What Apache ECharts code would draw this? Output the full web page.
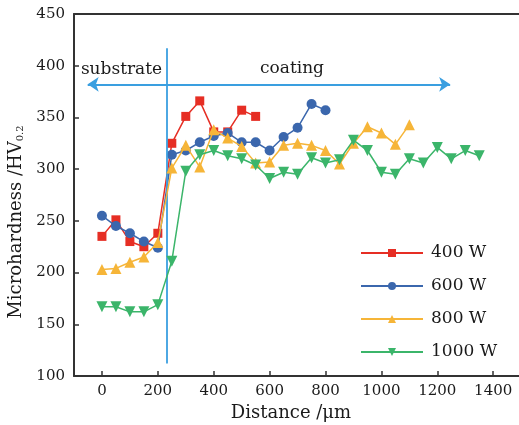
<!DOCTYPE html>
<html>
<head>
<meta charset="utf-8">
<script src="https://cdn.jsdelivr.net/npm/echarts@6/dist/echarts.min.js"></script>
<style>html,body{margin:0;padding:0;background:#fff;overflow:hidden}#c{width:519px;height:425px}</style>
</head>
<body>
<div id="c"></div>
<script>
// Distance (µm) of each indentation
var distance = [0, 50, 100, 150, 200, 250, 300, 350, 400, 450, 500, 550, 600, 650,
  700, 750, 800, 850, 900, 950, 1000, 1050, 1100, 1150, 1200, 1250, 1300, 1350];
// Microhardness HV0.2 per laser power
var hv400 = [235, 251, 230, 225, 238, 325, 351, 366, 336, 336, 357, 351];
var hv600 = [255, 245, 238, 230, 224, 314, 318, 326, 332, 335, 326, 326, 318, 331, 340, 363, 357];
var hv800 = [203, 204, 210, 215, 229, 301, 323, 302, 338, 330, 322, 306, 307, 323, 325, 323, 318, 305, 325, 341, 335, 324, 343];
var hv1000 = [167, 167, 162, 162, 169, 211, 298, 314, 318, 313, 310, 304, 291, 297, 295, 311, 306, 309, 328, 318, 297, 295, 310, 306, 321, 310, 318, 313];
var seriesNames = ['400 W', '600 W', '800 W', '1000 W'];
var xTicks = [0, 200, 400, 600, 800, 1000, 1200, 1400];
// annotations (data units)
var boundaryX = 233, boundaryY = [112, 417];
var arrowY = 382, arrowX = [-51, 1246];
var labelSubstrate = [70, 396], labelCoating = [680, 397];

var FONT = 'DejaVu Serif';
function pairs(vals) { return vals.map(function (v, i) { return [distance[i], v]; }); }

var chart = echarts.init(document.getElementById('c'), null, { renderer: 'canvas' });
var colors = ['#e62e24', '#3b67ad', '#f6b538', '#3bb56a'];
var symbols = ['rect', 'circle', 'triangle', 'triangle'];
var sizes = [9, 10, 11, 11];
var rots = [0, 0, 0, 180];
var vals = [hv400, hv600, hv800, hv1000];

var series = vals.map(function (v, i) {
  return {
    name: seriesNames[i], type: 'line', data: pairs(v),
    symbol: symbols[i], symbolSize: sizes[i], symbolRotate: rots[i], showAllSymbol: true,
    lineStyle: { color: colors[i], width: 1.5 },
    itemStyle: { color: colors[i] },
    z: 3 + i
  };
});
series[0].markLine = {
  silent: true, animation: false, label: { show: false },
  lineStyle: { color: '#3a9fe0', width: 1.8, type: 'solid' },
  symbolSize: [11, 11],
  data: [
    [{ coord: [boundaryX, boundaryY[0]], symbol: 'none' }, { coord: [boundaryX, boundaryY[1]], symbol: 'none' }],
    [{ coord: [arrowX[0], arrowY], symbol: 'arrow' }, { coord: [arrowX[1], arrowY], symbol: 'arrow' }]
  ]
};
series[0].markPoint = {
  silent: true, animation: false, symbol: 'rect', symbolSize: 1,
  itemStyle: { color: 'rgba(0,0,0,0)' },
  label: { show: true, position: 'inside', color: '#1a1a1a', fontFamily: FONT, fontSize: 17 },
  data: [
    { coord: labelSubstrate, label: { formatter: 'substrate' } },
    { coord: labelCoating, label: { formatter: 'coating' } }
  ]
};

var axisLineStyle = { color: '#333', width: 2 };
chart.setOption({
  animation: false,
  backgroundColor: '#fff',
  grid: { left: 74, top: 14, width: 460, height: 362, show: false, outerBoundsMode: 'none', containLabel: false },
  legend: {
    orient: 'vertical', left: 355, top: 238,
    itemWidth: 62, itemHeight: 10, itemGap: 13,
    data: seriesNames,
    textStyle: { fontFamily: FONT, fontSize: 17, color: '#1a1a1a', lineHeight: 20, padding: [0, 0, 0, 3] }
  },
  xAxis: [{
    type: 'value', min: -100, max: 1546, position: 'bottom',
    name: 'Distance /\u03bcm', nameLocation: 'middle', nameGap: 28,
    nameTextStyle: { fontFamily: FONT, fontSize: 18, color: '#1a1a1a', padding: [0, 26, 0, 0] },
    axisLine: { show: true, onZero: false, lineStyle: axisLineStyle },
    axisTick: { show: true, inside: true, length: 5, customValues: xTicks, lineStyle: { color: '#333', width: 1.5 } },
    axisLabel: { customValues: xTicks, margin: 8, fontFamily: FONT, fontSize: 15, color: '#1a1a1a',
      formatter: function (v) { return String(v); } },
    splitLine: { show: false }
  }, {
    type: 'value', min: -100, max: 1546, position: 'top',
    axisLine: { show: true, onZero: false, lineStyle: axisLineStyle },
    axisTick: { show: false }, axisLabel: { show: false }, splitLine: { show: false }
  }],
  yAxis: {
    type: 'value', min: 100, max: 450, interval: 50, position: 'left',
    name: '{a|Microhardness /HV}{s|0.2}', nameLocation: 'middle', nameGap: 42,
    nameTextStyle: {
      padding: [0, 54, 0, 0],
      rich: {
        a: { fontFamily: FONT, fontSize: 18, color: '#1a1a1a' },
        s: { fontFamily: FONT, fontSize: 10, color: '#1a1a1a', padding: [8, 0, 0, 0] }
      }
    },
    axisLine: { show: true, onZero: false, lineStyle: axisLineStyle },
    axisTick: { show: true, inside: true, length: 5, lineStyle: { color: '#333', width: 1.5 } },
    axisLabel: { margin: 9, fontFamily: FONT, fontSize: 15, color: '#1a1a1a' },
    splitLine: { show: false }
  },
  series: series
});
</script>
</body>
</html>
